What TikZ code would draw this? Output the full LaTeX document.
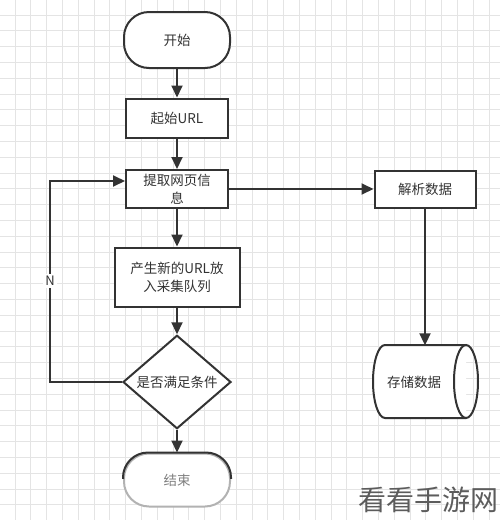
\documentclass[tikz,border=0pt]{standalone}
\usepackage{fontspec}
\setmainfont{Noto Sans CJK SC}
\usetikzlibrary{arrows.meta,shapes.geometric}
\definecolor{ink}{HTML}{333333}
\definecolor{gridc}{HTML}{E4E4E4}
\tikzset{
  gridline/.style={draw=gridc,line width=0.9pt},
  box/.style={draw=ink,line width=2pt,fill=white,text=ink,align=center,font=\fontsize{13.5}{18}\selectfont,inner sep=0pt},
  term/.style={box,rounded corners=25pt},
  flow/.style={draw=ink,line width=2pt,-{Triangle[length=12pt,width=11pt]}},
  cylline/.style={draw=ink,line width=2pt},
}
\begin{document}
\begin{tikzpicture}[x=1pt,y=-1pt]
\useasboundingbox (0,0) rectangle (500,520);
\fill[white] (0,0) rectangle (500,520);
\foreach \i in {0,...,31}{
  \draw[gridline] ({15+15.8*\i},0) -- ({15+15.8*\i},520);
  \draw[gridline] (0,{15+15.8*\i}) -- (500,{15+15.8*\i});
}
% nodes
\node[term,minimum width=106pt,minimum height=56pt] (start) at (177,40) {开始};
\node[box,minimum width=102pt,minimum height=39pt] (url) at (177,118) {起始URL};
\node[box,minimum width=102pt,minimum height=38pt] (fetch) at (177,189) {提取网页信\\息};
\node[box,minimum width=125pt,minimum height=59pt] (gen) at (177,277) {产生新的URL放\\入采集队列};
\node[diamond,draw=ink,line width=2pt,fill=white,text=ink,font=\fontsize{13.5}{18}\selectfont,
      minimum width=108pt,minimum height=78pt,inner sep=0pt] (cond) at (177,382) {是否满足条件};
\node[term,draw=gray!60,text=gray,minimum width=106pt,minimum height=53pt] (end) at (177,480) {结束};
\begin{scope}
  \clip (100,440) rectangle (260,478);
  \draw[ink,line width=2pt,rounded corners=25pt] (end.south west) rectangle (end.north east);
\end{scope}
\node[box,minimum width=101pt,minimum height=37pt] (parse) at (425,189) {解析数据};
% storage cylinder
\fill[white] (466,345) -- (385,345) arc[start angle=90,end angle=270,x radius=12pt,y radius=36.5pt] -- (466,418) -- cycle;
\draw[cylline] (466,345) -- (385,345) arc[start angle=90,end angle=270,x radius=12pt,y radius=36.5pt] -- (466,418);
\draw[cylline] (466,381.5) ellipse[x radius=12pt,y radius=36.5pt];
\node[minimum width=105pt,minimum height=73pt,inner sep=0pt] (store) at (425,382) {};
\node[text=ink,font=\fontsize{13.5}{18}\selectfont,inner sep=0pt] (storetext) at (414,382) {存储数据};
% connectors
\coordinate (lb) at (50,382);
\coordinate (lt) at (50,181);
\draw[flow] (start) -- (url);
\draw[flow] (url) -- (fetch);
\draw[flow] (fetch) -- (gen);
\draw[flow] (gen) -- (cond);
\draw[flow] (cond) -- (end);
\draw[flow] (fetch) -- (parse);
\draw[flow] (parse) -- (store);
\draw[flow] (cond.west) -- (lb) -- (lt) -- (fetch.west |- lt);
\node[fill=white,text=ink,font=\fontsize{13}{16}\selectfont,inner sep=2pt] (nlab) at (50,281) {N};
% watermark
\node[text=ink!80,font=\fontsize{28}{30}\selectfont,anchor=east,inner sep=0pt] (wm) at (499,500) {看看手游网};
\end{tikzpicture}
\end{document}
